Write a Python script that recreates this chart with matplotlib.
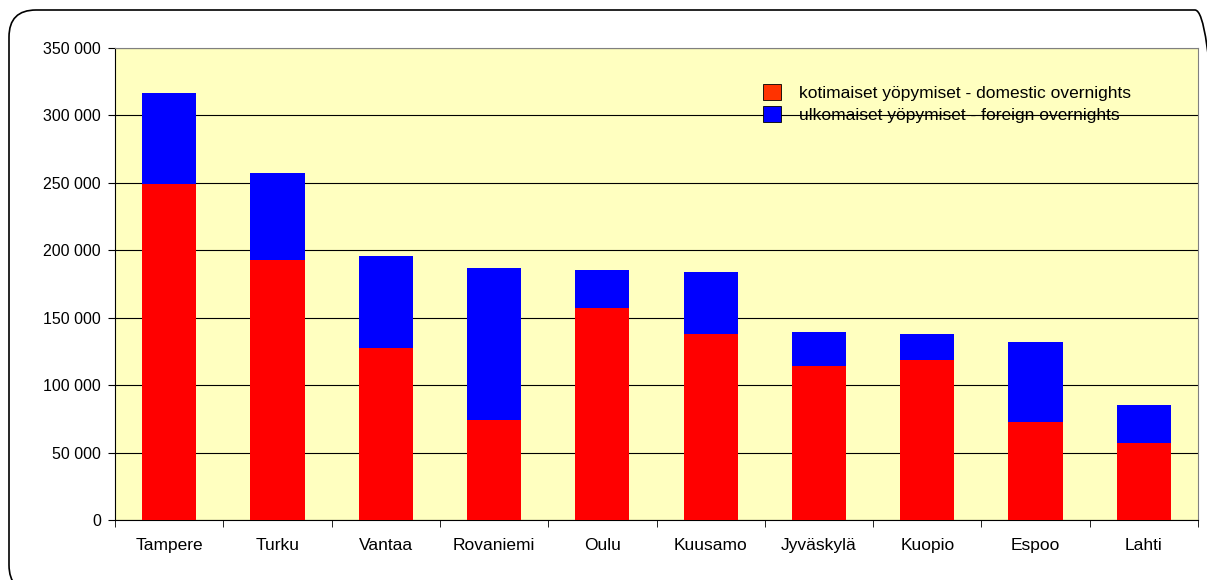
import matplotlib
matplotlib.use("Agg")
import matplotlib.pyplot as plt
from matplotlib.patches import FancyBboxPatch, Patch
from matplotlib.ticker import FuncFormatter

cities = ["Tampere", "Turku", "Vantaa", "Rovaniemi", "Oulu", "Kuusamo",
          "Jyväskylä", "Kuopio", "Espoo", "Lahti"]
domestic = [249000, 193000, 127500, 74500, 157000, 138000, 114500, 118500, 73000, 57000]
total = [317000, 257500, 196000, 187000, 185500, 184000, 139500, 138000, 132000, 85500]
foreign = [t - d for t, d in zip(total, domestic)]
yticks = [0, 50000, 100000, 150000, 200000, 250000, 300000, 350000]
legend_labels = ["kotimaiset yöpymiset - domestic overnights",
                 "ulkomaiset yöpymiset - foreign overnights"]

plt.rcParams['font.family'] = ['Liberation Sans', 'DejaVu Sans']

fig = plt.figure(figsize=(12.07, 5.8), dpi=100)
# rounded outer frame (extends past right and bottom edges)
frame = FancyBboxPatch((0.09, -0.12), 12.13, 5.82,
                       boxstyle="round,pad=0,rounding_size=0.27",
                       transform=fig.dpi_scale_trans, fill=False,
                       edgecolor="black", linewidth=1.2)
fig.patches.append(frame)

ax = fig.add_axes([115/1207, 60/580, (1198 - 115)/1207, (520 - 48)/580])
ax.set_facecolor("#FFFFC0")

x = list(range(len(cities)))
ax.bar(x, domestic, width=0.5, color="#FF0000", zorder=3)
ax.bar(x, foreign, width=0.5, bottom=domestic, color="#0000FF", zorder=3)

ax.set_xlim(-0.5, len(cities) - 0.5)
ax.set_ylim(0, 350000)
ax.set_yticks(yticks)
ax.yaxis.set_major_formatter(FuncFormatter(lambda v, p: f"{int(v):,}".replace(",", " ")))
ax.grid(axis="y", color="black", linewidth=0.8, zorder=1)
ax.set_xticks(x)
ax.set_xticklabels(cities)
ax.set_xticks([i - 0.5 for i in range(len(cities) + 1)], minor=True)
ax.tick_params(axis="x", which="major", length=0, pad=13, labelsize=12.5)
ax.tick_params(axis="x", which="minor", length=5, color="black")
ax.tick_params(axis="y", length=5, labelsize=11.5, pad=5)

for s in ["top", "right"]:
    ax.spines[s].set_color("#808080")
for s in ["left", "bottom"]:
    ax.spines[s].set_color("black")

handles = [Patch(facecolor="#FF3300", edgecolor="black", linewidth=0.6),
           Patch(facecolor="#0000FF", edgecolor="black", linewidth=0.6)]
ax.legend(handles, legend_labels, loc="upper left",
          bbox_to_anchor=((756 - 115)/1083, (520 - 77)/472),
          frameon=False, fontsize=12.5, handlelength=1.05, handleheight=1.05,
          handletextpad=1.0, labelspacing=0.3, borderaxespad=0)

fig.savefig("out.png", dpi=100)
